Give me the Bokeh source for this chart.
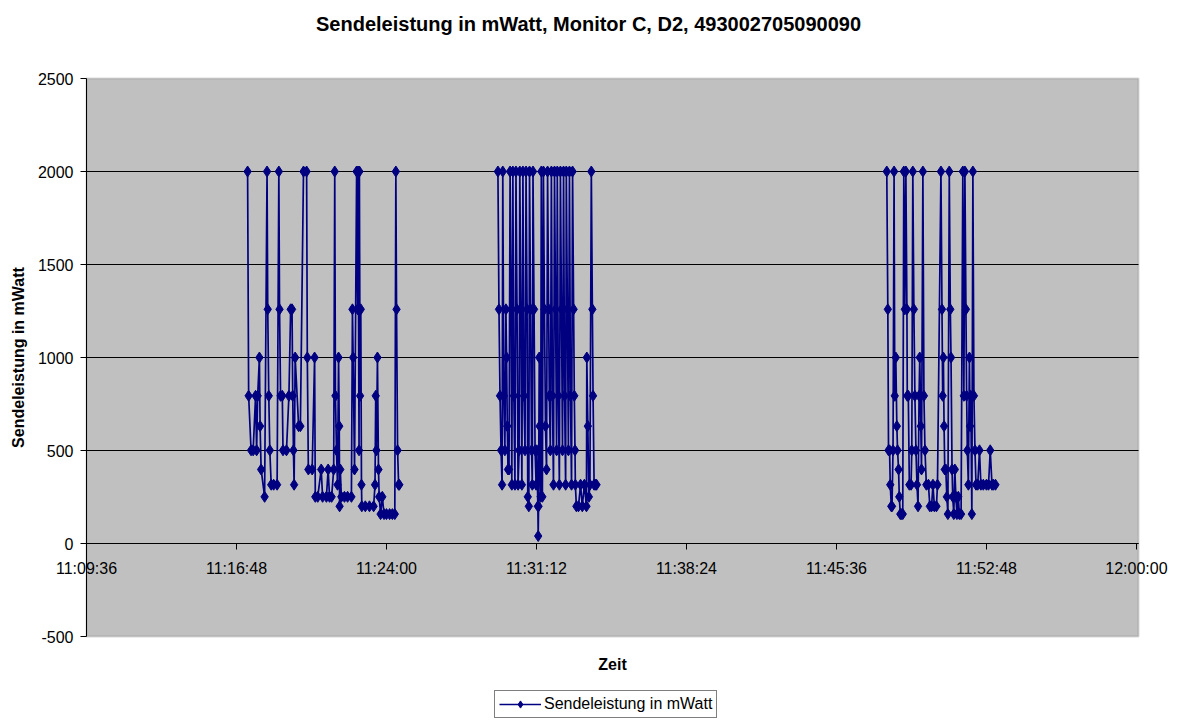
from bokeh.plotting import figure
from bokeh.models import (FixedTicker, Legend, LegendItem, Range1d,
                          ColumnDataSource, BoxAnnotation)
from bokeh.embed import file_html
from bokeh.resources import INLINE

TITLE = "Sendeleistung in mWatt, Monitor C, D2, 493002705090090"
SERIES = "Sendeleistung in mWatt"
X_LABEL = "Zeit"
Y_LABEL = "Sendeleistung in mWatt"
X_TICK_LABELS = ["11:09:36", "11:16:48", "11:24:00", "11:31:12",
                 "11:38:24", "11:45:36", "11:52:48", "12:00:00"]
Y_TICKS = [-500, 0, 500, 1000, 1500, 2000, 2500]
X_END = "12:00:06"

times_1 = [
    "11:17:20", "11:17:23", "11:17:30", "11:17:36", "11:17:43", "11:17:46", "11:17:49", "11:17:54", "11:17:56", "11:17:59",
    "11:18:09", "11:18:16", "11:18:18", "11:18:21", "11:18:24", "11:18:28", "11:18:35", "11:18:45", "11:18:50", "11:18:52",
    "11:18:55", "11:19:00", "11:19:02", "11:19:12", "11:19:19", "11:19:24", "11:19:28", "11:19:30", "11:19:32", "11:19:34",
    "11:19:37", "11:19:47", "11:19:52", "11:20:01", "11:20:10", "11:20:12", "11:20:15", "11:20:26", "11:20:33", "11:20:35",
    "11:20:42", "11:20:52", "11:20:56", "11:21:07", "11:21:12", "11:21:16", "11:21:22", "11:21:28", "11:21:31", "11:21:33",
    "11:21:36", "11:21:39", "11:21:42", "11:21:44", "11:21:45", "11:21:47", "11:21:50", "11:21:59", "11:22:08", "11:22:19",
    "11:22:22", "11:22:24", "11:22:28", "11:22:34", "11:22:37", "11:22:38", "11:22:41", "11:22:42", "11:22:44", "11:22:46",
    "11:22:48", "11:22:49", "11:22:59", "11:23:11", "11:23:23", "11:23:27", "11:23:29", "11:23:31", "11:23:34", "11:23:37",
    "11:23:39", "11:23:43", "11:23:48", "11:23:53", "11:24:00", "11:24:09", "11:24:17", "11:24:24", "11:24:27", "11:24:29",
    "11:24:32", "11:24:35", "11:24:37",
]
power_1 = [
    2000, 794, 501, 501, 794, 501, 794, 1000, 631, 398,
    251, 2000, 1259, 794, 501, 316, 316, 316, 2000, 1259,
    794, 794, 501, 501, 794, 1259, 1259, 794, 501, 316,
    1000, 631, 631, 2000, 2000, 1000, 398, 398, 1000, 251,
    251, 398, 251, 251, 398, 251, 251, 398, 2000, 794,
    501, 316, 1000, 631, 200, 398, 251, 251, 251, 251,
    1259, 1000, 398, 2000, 1259, 2000, 501, 2000, 794, 1259,
    316, 200, 200, 200, 200, 316, 794, 501, 1000, 398,
    251, 158, 251, 158, 158, 158, 158, 158, 2000, 1259,
    501, 316, 316,
]

times_2 = [
    "11:29:21", "11:29:24", "11:29:27", "11:29:30", "11:29:33", "11:29:35", "11:29:38", "11:29:41", "11:29:44", "11:29:46",
    "11:29:48", "11:29:50", "11:29:53", "11:29:56", "11:29:59", "11:30:01", "11:30:04", "11:30:07", "11:30:10", "11:30:13",
    "11:30:16", "11:30:19", "11:30:22", "11:30:24", "11:30:27", "11:30:30", "11:30:33", "11:30:36", "11:30:39", "11:30:42",
    "11:30:45", "11:30:47", "11:30:50", "11:30:52", "11:30:55", "11:30:58", "11:31:00", "11:31:02", "11:31:05", "11:31:08",
    "11:31:11", "11:31:13", "11:31:16", "11:31:17", "11:31:18", "11:31:20", "11:31:21", "11:31:22", "11:31:24", "11:31:26",
    "11:31:29", "11:31:32", "11:31:35", "11:31:38", "11:31:41", "11:31:44", "11:31:47", "11:31:49", "11:31:52", "11:31:55",
    "11:31:58", "11:32:01", "11:32:04", "11:32:07", "11:32:10", "11:32:12", "11:32:15", "11:32:18", "11:32:21", "11:32:24",
    "11:32:27", "11:32:30", "11:32:33", "11:32:36", "11:32:38", "11:32:41", "11:32:44", "11:32:47", "11:32:50", "11:32:53",
    "11:32:56", "11:32:59", "11:33:01", "11:33:03", "11:33:04", "11:33:07", "11:33:13", "11:33:19", "11:33:24", "11:33:30",
    "11:33:36", "11:33:37", "11:33:40", "11:33:43", "11:33:46", "11:33:50", "11:33:53", "11:33:55", "11:33:58", "11:34:02",
    "11:34:05",
]
power_2 = [
    2000, 1259, 794, 501, 316, 2000, 794, 501, 1259, 1000,
    631, 398, 398, 2000, 1259, 316, 2000, 794, 316, 2000,
    1259, 316, 501, 2000, 1259, 316, 2000, 794, 501, 2000,
    1259, 251, 200, 2000, 1259, 501, 316, 2000, 1259, 501,
    316, 501, 200, 40, 200, 1000, 631, 398, 251, 2000,
    251, 2000, 1259, 631, 398, 2000, 1259, 794, 501, 2000,
    794, 316, 2000, 1259, 501, 2000, 794, 316, 2000, 1259,
    501, 2000, 794, 316, 2000, 1259, 501, 2000, 794, 316,
    2000, 1259, 794, 501, 316, 200, 200, 316, 200, 316,
    200, 1000, 631, 251, 316, 2000, 1259, 794, 316, 316,
    316,
]

times_3 = [
    "11:48:01", "11:48:04", "11:48:06", "11:48:09", "11:48:11", "11:48:14", "11:48:16", "11:48:19", "11:48:22", "11:48:24",
    "11:48:27", "11:48:30", "11:48:32", "11:48:35", "11:48:37", "11:48:40", "11:48:43", "11:48:47", "11:48:50", "11:48:53",
    "11:48:56", "11:48:59", "11:49:00", "11:49:03", "11:49:06", "11:49:11", "11:49:13", "11:49:16", "11:49:19", "11:49:22",
    "11:49:25", "11:49:28", "11:49:31", "11:49:34", "11:49:36", "11:49:39", "11:49:41", "11:49:45", "11:49:48", "11:49:51",
    "11:49:55", "11:50:01", "11:50:05", "11:50:10", "11:50:14", "11:50:18", "11:50:24", "11:50:27", "11:50:37", "11:50:40",
    "11:50:42", "11:50:44", "11:50:46", "11:50:48", "11:50:51", "11:50:54", "11:50:57", "11:51:01", "11:51:04", "11:51:06",
    "11:51:09", "11:51:11", "11:51:14", "11:51:17", "11:51:20", "11:51:23", "11:51:27", "11:51:30", "11:51:35", "11:51:40",
    "11:51:43", "11:51:46", "11:51:49", "11:51:51", "11:51:53", "11:51:56", "11:51:59", "11:52:01", "11:52:03", "11:52:06",
    "11:52:09", "11:52:12", "11:52:15", "11:52:18", "11:52:23", "11:52:28", "11:52:32", "11:52:39", "11:52:48", "11:52:54",
    "11:52:59", "11:53:04", "11:53:08", "11:53:14",
]
power_3 = [
    2000, 1259, 501, 501, 316, 200, 200, 501, 2000, 794,
    1000, 631, 501, 398, 251, 158, 158, 158, 2000, 1259,
    2000, 1259, 794, 794, 316, 316, 501, 2000, 1259, 794,
    501, 316, 200, 794, 1000, 631, 398, 2000, 794, 501,
    316, 316, 200, 200, 316, 200, 200, 316, 2000, 1259,
    794, 1000, 631, 398, 398, 251, 158, 2000, 1259, 1000,
    398, 251, 158, 398, 251, 158, 251, 158, 158, 2000,
    794, 2000, 1259, 794, 501, 316, 1000, 631, 794, 158,
    2000, 794, 501, 316, 316, 501, 316, 316, 316, 316,
    501, 316, 316, 316,
]


def to_sec(s):
    h, m, sec = (int(v) for v in s.split(":"))
    return h * 3600 + m * 60 + sec


NAVY = "#000080"
FONT = "Liberation Sans"

# ---- layout (pixels) ----
W, H = 1176, 720
TOP = 44                       # frame top (title above)
PLOT_L, PLOT_R = 86, 1138      # grey plot area in figure pixels
PLOT_T, PLOT_B = 78, 636

x_ticks = [to_sec(t) for t in X_TICK_LABELS]
x0, x1 = x_ticks[0], to_sec(X_END)
y0, y1 = Y_TICKS[0], Y_TICKS[-1]
sx = (x1 - x0) / (PLOT_R - PLOT_L)
sy = (y1 - y0) / (PLOT_B - PLOT_T)
xr = Range1d(x0 - PLOT_L * sx, x1 + (W - PLOT_R) * sx)
yr = Range1d(y0 - (H - PLOT_B) * sy, y1 + (PLOT_T - TOP) * sy)

xs, ys = [], []
for tl, pl in ((times_1, power_1), (times_2, power_2), (times_3, power_3)):
    if xs:
        xs.append(float("nan"))
        ys.append(float("nan"))
    xs.extend(to_sec(t) for t in tl)
    ys.extend(pl)

src = ColumnDataSource(data=dict(x=xs, y=ys))

p = figure(width=W, height=H, x_range=xr, y_range=yr,
           output_backend="svg", toolbar_location=None,
           min_border_left=0, min_border_right=0,
           min_border_top=TOP, min_border_bottom=0,
           background_fill_color="white", border_fill_color="white")
p.outline_line_color = None
p.xgrid.visible = False
p.ygrid.visible = False

p.title.text = TITLE
p.title.align = "center"
p.title.text_font = FONT
p.title.text_font_size = "20px"
p.title.text_font_style = "bold"
p.title.text_color = "black"
p.title.standoff = 20

# grey plot area
p.add_layout(BoxAnnotation(left=x0, right=x1, bottom=y0, top=y1,
                           fill_color="#C0C0C0", fill_alpha=1.0,
                           line_color="#808080", line_width=2,
                           level="underlay"))

# horizontal gridlines
grid_src = ColumnDataSource(data=dict(
    y=[t for t in Y_TICKS if y0 < t < y1],
    xa=[x0] * (len(Y_TICKS) - 2), xb=[x1] * (len(Y_TICKS) - 2)))
p.segment(x0="xa", x1="xb", y0="y", y1="y", source=grid_src,
          line_color="black", line_width=1)

# x axis at y = 0
xax = p.xaxis[0]
xax.ticker = FixedTicker(ticks=x_ticks)
xax.major_label_overrides = {t: lbl for t, lbl in zip(x_ticks, X_TICK_LABELS)}
xax.fixed_location = 0
xax.bounds = (x0, x1)
xax.major_tick_out = 6
xax.major_tick_in = 0
xax.minor_tick_line_color = None
xax.axis_line_color = "black"
xax.major_tick_line_color = "black"
xax.major_label_standoff = 10
xax.major_label_text_font = FONT
xax.major_label_text_font_size = "16px"
xax.major_label_text_color = "black"
xax.axis_label = X_LABEL
xax.axis_label_text_font = FONT
xax.axis_label_text_font_size = "16px"
xax.axis_label_text_font_style = "bold"
xax.axis_label_text_color = "black"
xax.axis_label_standoff = 76

# y axis at the left edge of the grey area
yax = p.yaxis[0]
yax.ticker = FixedTicker(ticks=Y_TICKS)
yax.major_label_overrides = {t: str(t) for t in Y_TICKS}
yax.fixed_location = x0
yax.bounds = (y0, y1)
yax.major_tick_out = 6
yax.major_tick_in = 0
yax.minor_tick_line_color = None
yax.axis_line_color = "black"
yax.major_tick_line_color = "black"
yax.major_label_standoff = 7
yax.major_label_text_font = FONT
yax.major_label_text_font_size = "16px"
yax.major_label_text_color = "black"
yax.axis_label = Y_LABEL
yax.axis_label_text_font = FONT
yax.axis_label_text_font_size = "16px"
yax.axis_label_text_font_style = "bold"
yax.axis_label_text_color = "black"
yax.axis_label_standoff = 8

r_line = p.line("x", "y", source=src, line_color=NAVY, line_width=1.7)
r_pts = p.scatter("x", "y", source=src, marker="diamond", size=11,
                  fill_color=NAVY, line_color=NAVY)

legend = Legend(items=[LegendItem(label=SERIES, renderers=[r_line, r_pts])],
                location=(494, 2), border_line_color="black",
                border_line_width=1, background_fill_color="white",
                background_fill_alpha=1.0,
                label_text_font=FONT, label_text_font_size="16px",
                label_text_color="black",
                glyph_width=42, glyph_height=18, padding=4, margin=0,
                spacing=0, label_standoff=3)
p.add_layout(legend)

open("out.html", "w").write(file_html(p, INLINE))
